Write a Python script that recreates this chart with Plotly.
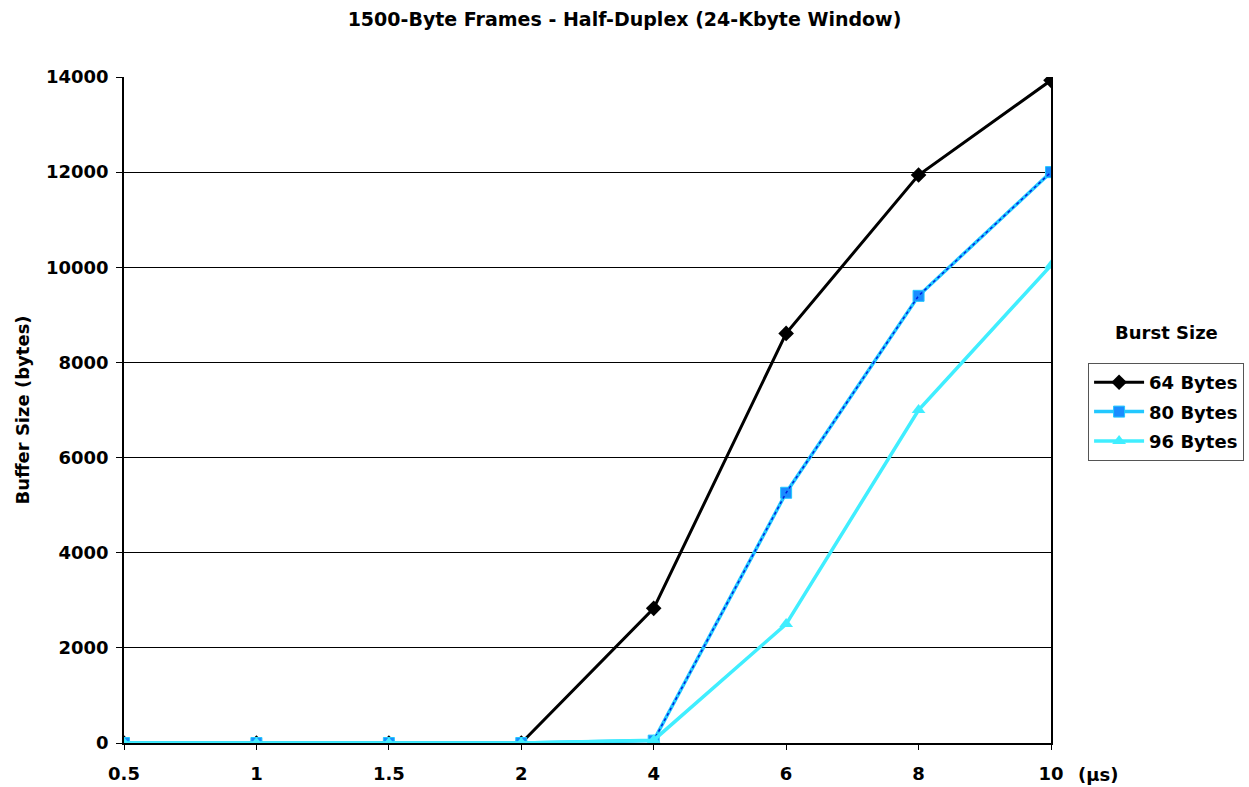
import plotly.graph_objects as go

# Delay categories (microseconds) and buffer sizes per burst size
delays = ["0.5", "1", "1.5", "2", "4", "6", "8", "10"]
burst_64 = [0, 0, 0, 0, 2830, 8610, 11940, 13930]
burst_80 = [0, 0, 0, 0, 50, 5260, 9400, 12000]
burst_96 = [0, 0, 0, 0, 60, 2500, 7000, 10040]

FONT = "DejaVu Sans, sans-serif"

fig = go.Figure()

fig.add_trace(go.Scatter(
    x=delays, y=burst_64, name="64 Bytes", mode="lines+markers",
    legendgroup="a",
    line=dict(color="black", width=3),
    marker=dict(symbol="diamond", size=12, color="black"),
))
fig.add_trace(go.Scatter(
    x=delays, y=burst_80, name="80 Bytes", mode="lines+markers",
    legendgroup="b",
    line=dict(color="#22C8FF", width=3.5),
    marker=dict(symbol="square", size=11, color="#1A8CFF",
                line=dict(color="#22C8FF", width=1)),
))
# dark blue dotted pattern along the 80-byte line
fig.add_trace(go.Scatter(
    x=delays, y=burst_80, mode="lines", showlegend=False,
    legendgroup="b", hoverinfo="skip",
    line=dict(color="#0020E0", width=1.5, dash="dot"),
))
fig.add_trace(go.Scatter(
    x=delays, y=burst_96, name="96 Bytes", mode="lines+markers",
    legendgroup="c",
    line=dict(color="#40EEFF", width=3.5),
    marker=dict(symbol="triangle-up", size=12, color="#40EEFF"),
))

fig.update_layout(
    width=1249, height=787,
    paper_bgcolor="white", plot_bgcolor="white",
    margin=dict(l=124, r=198, t=77, b=44, autoexpand=False),
    font=dict(family=FONT, color="black"),
    title=dict(
        text="1500-Byte Frames - Half-Duplex (24-Kbyte Window)",
        font=dict(family=FONT, size=19, weight="bold", color="black"),
        x=0.5, xref="container", xanchor="center",
        y=1 - 19 / 787, yref="container", yanchor="middle",
    ),
    xaxis=dict(
        type="category", range=[0, 7],
        showgrid=False, zeroline=False,
        showline=True, linecolor="black", linewidth=1.5,
        ticks="outside", ticklen=5, tickcolor="black",
        ticklabelstandoff=9,
        tickfont=dict(family=FONT, size=18, weight="bold", color="black"),
    ),
    yaxis=dict(
        range=[0, 14000], dtick=2000, tickformat="d",
        showgrid=True, gridcolor="black", gridwidth=1,
        zeroline=False,
        showline=True, linecolor="black", linewidth=1.5, mirror=True,
        ticks="outside", ticklen=6, tickcolor="black",
        ticklabelstandoff=4,
        tickfont=dict(family=FONT, size=18, weight="bold", color="black"),
        title=dict(text="Buffer Size (bytes)", standoff=12,
                   font=dict(family=FONT, size=18, weight="bold", color="black")),
    ),
    legend=dict(
        x=1.04, xanchor="left", y=(743 - 363) / 666, yanchor="top",
        bordercolor="#555555", borderwidth=1, bgcolor="white",
        font=dict(family=FONT, size=18, weight="bold", color="black"),
        tracegroupgap=3, itemwidth=50,
    ),
    annotations=[
        dict(text="Burst Size", xref="paper", yref="paper",
             x=(1166 - 124) / 927, y=(743 - 332) / 666,
             xanchor="center", yanchor="middle", showarrow=False,
             font=dict(family=FONT, size=18, weight="bold", color="black")),
        dict(text="(µs)", xref="paper", yref="paper",
             x=(1076 - 124) / 927, y=0, yshift=-31,
             xanchor="left", yanchor="middle", showarrow=False,
             font=dict(family=FONT, size=18, weight="bold", color="black")),
    ],
)

fig.write_html("out.html")
